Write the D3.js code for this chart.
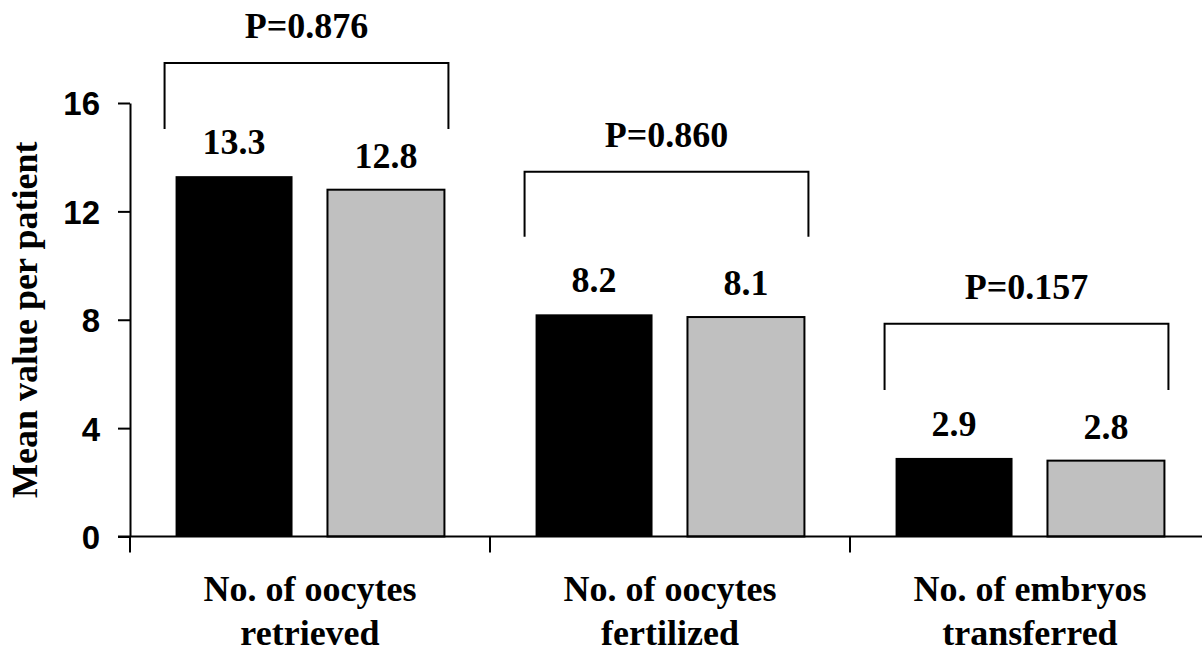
<!DOCTYPE html>
<html>
<head>
<meta charset="utf-8">
<script src="https://cdn.jsdelivr.net/npm/d3@7"></script>
<style>
  body { margin: 0; background: white; }
  .serif { font-family: "Liberation Serif", "Times New Roman", serif; font-weight: bold; }
  .sans { font-family: "Liberation Sans", Arial, sans-serif; font-weight: bold; }
</style>
</head>
<body>
<svg width="1202" height="652"></svg>
<script>
// data
var categories = [["No. of oocytes", "retrieved"], ["No. of oocytes", "fertilized"], ["No. of embryos", "transferred"]];
var groups = ["A", "B"];
var seriesA = [13.3, 8.2, 2.9];
var seriesB = [12.8, 8.1, 2.8];
var pLabels = ["P=0.876", "P=0.860", "P=0.157"];
var bracketTop = [17.48, 13.46, 7.85];
var bracketLeg = [15.04, 11.06, 5.41];
var yTicks = [0, 4, 8, 12, 16];

var svg = d3.select('svg');
var colors = ['#000000', '#c0c0c0'];

var y = d3.scaleLinear().domain([0, 16]).range([536.5, 103]);
var x = d3.scaleBand().domain(d3.range(categories.length)).range([130, 1210]).padding(0);
var xi = d3.scaleBand().domain(groups).range([0, x.bandwidth()]).paddingInner(0.23).paddingOuter(0.3);

// bars
var cat = svg.selectAll('g.cat').data(categories).enter().append('g')
    .attr('class', 'cat')
    .attr('transform', (d, i) => 'translate(' + x(i) + ',0)');

cat.each(function (d, i) {
    var g = d3.select(this);
    var vals = [seriesA[i], seriesB[i]];
    g.selectAll('rect').data(vals).enter().append('rect')
        .attr('x', (v, j) => xi(groups[j]))
        .attr('y', v => y(v))
        .attr('width', xi.bandwidth())
        .attr('height', v => y(0) - y(v))
        .attr('fill', (v, j) => colors[j])
        .attr('stroke', '#000')
        .attr('stroke-width', (v, j) => j == 0 ? 0 : 2);
    g.selectAll('text.val').data(vals).enter().append('text')
        .attr('class', 'val serif')
        .attr('x', (v, j) => xi(groups[j]) + xi.bandwidth() / 2)
        .attr('y', v => y(v) - 22)
        .attr('text-anchor', 'middle')
        .attr('font-size', 36)
        .text(v => v.toFixed(1));

    // bracket
    var x0 = xi(groups[0]) - 11, x1 = xi(groups[1]) + xi.bandwidth() + 4;
    g.append('path')
        .attr('d', 'M' + x0 + ',' + y(bracketLeg[i]) + 'V' + y(bracketTop[i]) + 'H' + x1 + 'V' + y(bracketLeg[i]))
        .attr('fill', 'none').attr('stroke', '#000').attr('stroke-width', 2);
    g.append('text')
        .attr('class', 'serif')
        .attr('x', (x0 + x1) / 2)
        .attr('y', y(bracketTop[i]) - 25)
        .attr('text-anchor', 'middle')
        .attr('font-size', 36)
        .text(pLabels[i]);

    // category label
    var t = g.append('text').attr('class', 'serif').attr('text-anchor', 'middle').attr('font-size', 36);
    t.selectAll('tspan').data(d).enter().append('tspan')
        .attr('x', x.bandwidth() / 2)
        .attr('y', (s, k) => 601 + k * 44)
        .text(s => s);
});

// y axis
var yAxis = svg.append('g')
    .attr('transform', 'translate(130,0)')
    .call(d3.axisLeft(y).tickValues(yTicks).tickSize(12).tickPadding(18).tickSizeOuter(0));
yAxis.select('.domain').attr('stroke-width', 2);
yAxis.selectAll('.tick line').attr('stroke-width', 2);
yAxis.selectAll('.tick text').attr('class', 'sans').attr('font-size', 33).attr('dy', '0.36em');

// x axis
svg.append('line').attr('x1', 118).attr('x2', 1202).attr('y1', y(0)).attr('y2', y(0))
    .attr('stroke', '#000').attr('stroke-width', 2);
svg.selectAll('line.xt').data(d3.range(categories.length + 1)).enter().append('line')
    .attr('class', 'xt')
    .attr('x1', i => 130 + i * x.step()).attr('x2', i => 130 + i * x.step())
    .attr('y1', y(0)).attr('y2', y(0) + 16)
    .attr('stroke', '#000').attr('stroke-width', 2);

// y title
svg.append('text')
    .attr('class', 'serif')
    .attr('transform', 'translate(37,' + y(8) + ') rotate(-90)')
    .attr('text-anchor', 'middle')
    .attr('font-size', 36)
    .text('Mean value per patient');
</script>
</body>
</html>
